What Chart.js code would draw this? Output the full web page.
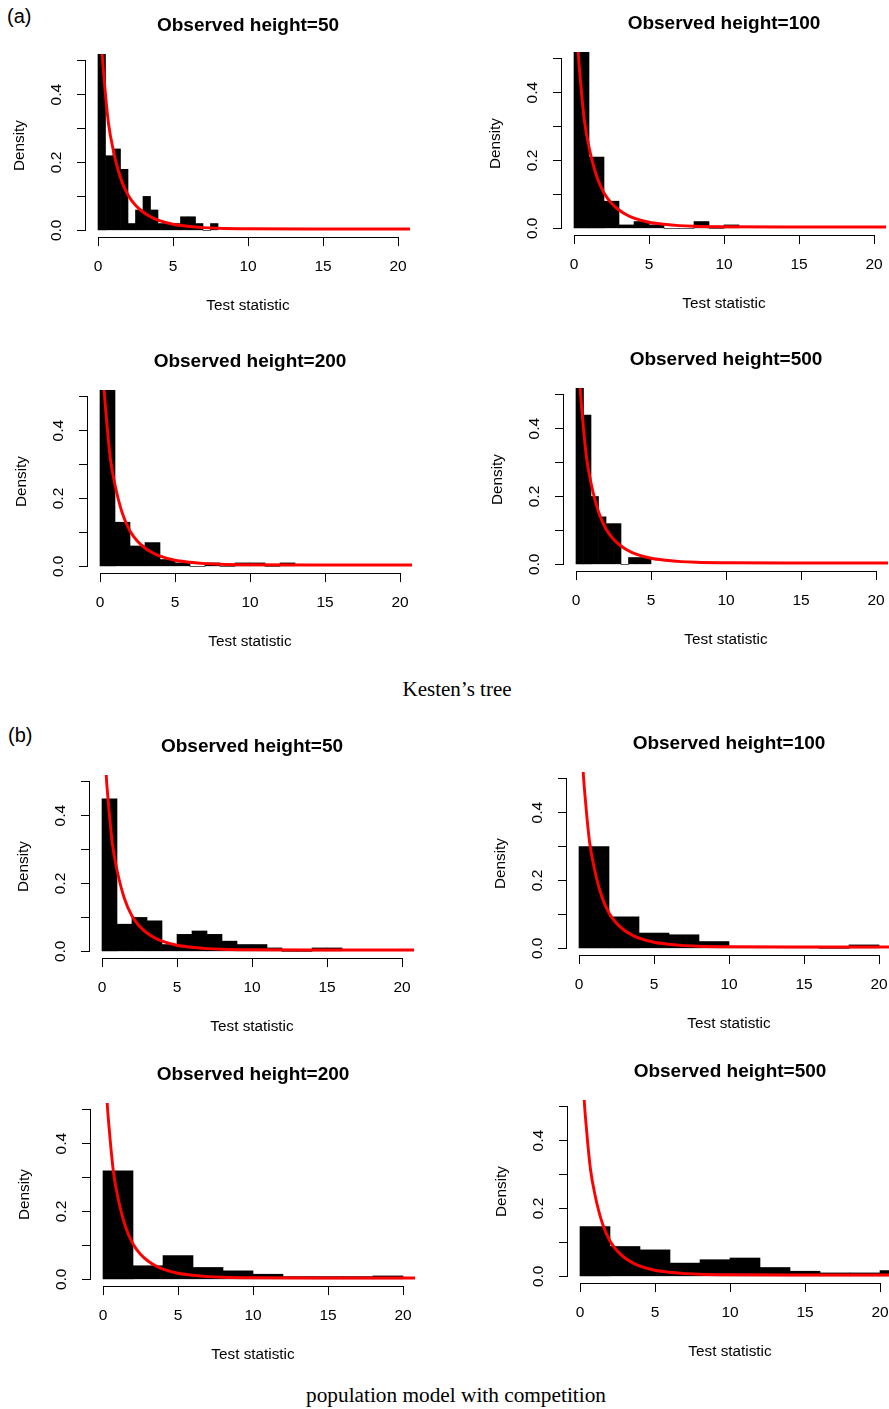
<!DOCTYPE html>
<html>
<head>
<meta charset="utf-8">
<script src="https://cdn.jsdelivr.net/npm/chart.js@4.4.1/dist/chart.umd.min.js"></script>
<style>
html,body{margin:0;padding:0;background:#fff;}
body{width:889px;height:1409px;position:relative;overflow:hidden;font-family:'Liberation Sans',Arial,sans-serif;}
canvas{position:absolute;}
.lbl{position:absolute;line-height:1;white-space:nowrap;color:#000;}
.cap{font-family:'Liberation Serif','Times New Roman',serif;font-size:21px;transform:translateX(-50%);}
</style>
</head>
<body>
<div class="lbl" style="left:7px;top:6px;font-size:20px">(a)</div>
<div class="lbl" style="left:8px;top:725px;font-size:20px">(b)</div>
<div class="lbl cap" style="left:457px;top:679px">Kesten’s tree</div>
<div class="lbl cap" style="left:456px;top:1385px;font-size:21.3px">population model with competition</div>
<script>
// ---------- data ----------
const xTicks = [0, 5, 10, 15, 20];
const xTickLabels = ['0', '5', '10', '15', '20'];
const yTicks = [0, 0.1, 0.2, 0.3, 0.4, 0.5];
const yTickLabels = ['0.0', '', '0.2', '', '0.4', ''];

// red reference density curve
const curveX = [0.24, 0.28, 0.4, 0.5, 0.7, 1.0, 1.5, 2.0, 2.5, 3.0, 3.5, 4.0, 5.0, 6.0, 7.0, 8.0, 10, 14, 21];
const curveY = [0.56, 0.52, 0.45, 0.40, 0.315, 0.24, 0.155, 0.104, 0.074, 0.054, 0.040, 0.030, 0.018, 0.012, 0.008, 0.006, 0.0045, 0.004, 0.004];

const panelTitles = ['Observed height=50', 'Observed height=100', 'Observed height=200', 'Observed height=500',
                     'Observed height=50', 'Observed height=100', 'Observed height=200', 'Observed height=500'];

// (a) Kesten's tree
const a50Breaks  = [0,0.5,1,1.5,2,2.5,3,3.5,4,4.5,5,5.5,6,6.5,7,7.5,8];
const a50Density = [0.94,0.22,0.24,0.18,0.02,0.06,0.10,0.06,0.02,0.02,0.02,0.04,0.04,0.02,0,0.02];
const a100Breaks  = [0,1,2,3,4,5,6,7,8,9,10,11];
const a100Density = [0.64,0.21,0.08,0.01,0.02,0.01,0,0,0.02,0,0.01];
const a200Breaks  = [0,1,2,3,4,5,6,7,8,9,10,11,12,13];
const a200Density = [0.67,0.13,0.06,0.07,0.02,0.01,0,0.01,0,0.01,0.01,0,0.01];
const a500Breaks  = [0,0.5,1,1.5,2,2.5,3,3.5,4,4.5,5];
const a500Density = [0.92,0.44,0.20,0.14,0.12,0.12,0,0.02,0.02,0.02];

// (b) population model with competition
const b50Breaks  = [0,1,2,3,4,5,6,7,8,9,10,11,12,13,14,15,16];
const b50Density = [0.45,0.08,0.10,0.09,0.02,0.05,0.06,0.05,0.03,0.02,0.02,0.01,0,0,0.01,0.01];
const b100Breaks  = [0,2,4,6,8,10,12,14,16,18,20];
const b100Density = [0.30,0.0925,0.045,0.04,0.02,0.006,0.006,0.006,0,0.01];
const b200Breaks  = [0,2,4,6,8,10,12,14,16,18,20];
const b200Density = [0.32,0.04,0.07,0.035,0.025,0.015,0.008,0.008,0.008,0.01];
const b500Breaks  = [0,2,4,6,8,10,12,14,16,18,20,22];
const b500Density = [0.147,0.088,0.078,0.039,0.049,0.054,0.026,0.015,0.01,0.01,0.017];

// ---------- layout (canvas positions on the page) ----------
const CW = 420, CH = 320;
const panelPos = [[0,-2],[476,-4],[2,334],[478,332],[4,719],[481,716],[5,1047],[482,1044]];

Chart.defaults.font.family = "'Liberation Sans', Arial, sans-serif";
Chart.defaults.color = '#000';

// R-style axis lines: only from first to last tick
const rAxes = {
  id: 'rAxes',
  afterDraw(chart) {
    const {ctx, scales: {x, y}} = chart;
    ctx.save();
    ctx.strokeStyle = '#000';
    ctx.lineWidth = 1;
    ctx.beginPath();
    const yb = Math.round(x.top) + 0.5;
    ctx.moveTo(x.getPixelForValue(xTicks[0]), yb);
    ctx.lineTo(x.getPixelForValue(xTicks[xTicks.length - 1]), yb);
    const xl = Math.round(y.right) - 0.5;
    ctx.moveTo(xl, y.getPixelForValue(yTicks[0]));
    ctx.lineTo(xl, y.getPixelForValue(yTicks[yTicks.length - 1]));
    ctx.stroke();
    ctx.restore();
  }
};

function makePanel(idx, breaks, density) {
  const pos = panelPos[idx];
  const cv = document.createElement('canvas');
  cv.width = CW; cv.height = CH;
  cv.style.left = pos[0] + 'px'; cv.style.top = pos[1] + 'px';
  cv.style.width = CW + 'px'; cv.style.height = CH + 'px';
  document.body.appendChild(cv);
  const bars = density.map((d, i) => ({x: (breaks[i] + breaks[i + 1]) / 2, y: d}));
  const curve = curveX.map((v, i) => ({x: v, y: curveY[i]}));
  new Chart(cv, {
    type: 'bar',
    data: {
      datasets: [
        {type: 'line', data: curve, borderColor: '#ff0000', borderWidth: 2.9, pointRadius: 0,
         cubicInterpolationMode: 'monotone', fill: false, clip: 0, order: 0},
        {type: 'bar', data: bars, backgroundColor: '#000', borderWidth: 0,
         barPercentage: 1, categoryPercentage: 1, clip: 0, order: 1}
      ]
    },
    options: {
      responsive: false, animation: false, devicePixelRatio: 1,
      layout: {padding: {top: 0, left: 0, right: 10, bottom: 0}},
      plugins: {
        legend: {display: false}, tooltip: {enabled: false},
        title: {display: true, text: panelTitles[idx], fullSize: false, color: '#000',
                font: {size: 19, weight: 'bold'}, padding: {top: 16.5, bottom: 16.7}}
      },
      scales: {
        x: {
          type: 'linear', min: -0.8, max: 20.8, offset: false,
          afterBuildTicks: s => { s.ticks = xTicks.map(v => ({value: v})); },
          afterFit: s => { s.height = 80.9; },
          grid: {offset: false, drawOnChartArea: false, drawTicks: true, tickLength: 9, color: '#000', lineWidth: 1},
          border: {display: false},
          ticks: {autoSkip: false, minRotation: 0, maxRotation: 0, padding: 11.2, color: '#000',
                  font: {size: 15.5}, callback: (v, i) => xTickLabels[i]},
          title: {display: true, text: 'Test statistic', color: '#000', font: {size: 15.3}, padding: {top: 0, bottom: 3.4}}
        },
        y: {
          type: 'linear', min: -0.02, max: 0.52,
          afterBuildTicks: s => { s.ticks = yTicks.map(v => ({value: v})); },
          afterFit: s => { s.width = 86; },
          grid: {drawOnChartArea: false, drawTicks: true, tickLength: 9, color: '#000', lineWidth: 1},
          border: {display: false},
          ticks: {autoSkip: false, minRotation: 90, maxRotation: 90, crossAlign: 'center', padding: 10,
                  color: '#000', font: {size: 15.5}, callback: (v, i) => yTickLabels[i]},
          title: {display: true, text: 'Density', color: '#000', font: {size: 15.3}, padding: {top: 10.8, bottom: 0}}
        }
      }
    },
    plugins: [rAxes]
  });
}

makePanel(0, a50Breaks, a50Density);
makePanel(1, a100Breaks, a100Density);
makePanel(2, a200Breaks, a200Density);
makePanel(3, a500Breaks, a500Density);
makePanel(4, b50Breaks, b50Density);
makePanel(5, b100Breaks, b100Density);
makePanel(6, b200Breaks, b200Density);
makePanel(7, b500Breaks, b500Density);
</script>
</body>
</html>
